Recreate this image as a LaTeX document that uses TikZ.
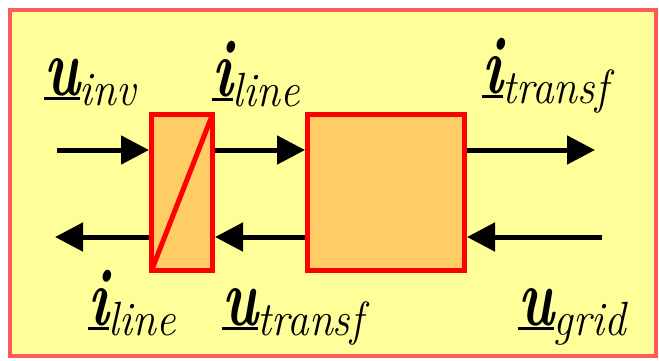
\documentclass[tikz,border=0pt]{standalone}
\usepackage{fontspec}
\usepackage{graphicx}
\usepackage{tikz}
\usetikzlibrary{positioning,arrows.meta}
\definecolor{panelyellow}{HTML}{FFFF99}
\definecolor{panelred}{HTML}{FF5A5A}
\definecolor{boxorange}{HTML}{FFCC66}
\newsavebox{\phasorbox}
\newcommand{\phasor}[2]{%
  \sbox{\phasorbox}{\scalebox{0.7}[1]{\fontsize{82}{82}\selectfont\bfseries\itshape #1}}%
  \rlap{\rule[-5pt]{\wd\phasorbox}{3pt}}\usebox{\phasorbox}%
  \raisebox{-10pt}{\scalebox{0.9}[1]{\fontsize{48}{48}\selectfont\itshape #2}}}

\begin{document}
\begin{tikzpicture}[
  x=1pt, y=-1pt,
  blk/.style={draw=red, line width=5pt, fill=boxorange, minimum height=156pt, inner sep=0pt},
  sig/.style={line width=5pt, -{Triangle[length=28pt, width=28pt]}},
  lbl/.style={anchor=base west, inner sep=0pt},
]
\useasboundingbox (0,0) rectangle (659,360);
\draw[panelred, line width=4pt, fill=panelyellow] (10,10) rectangle (656,356);

% blocks
\node[blk, minimum width=61pt] (lbox) at (182,192.5) {};
\node[blk, minimum width=157pt, right=90pt of lbox] (rbox) {};
\draw[red, line width=5pt] ([shift={(-2.5pt,-2.5pt)}]lbox.north east) -- ([shift={(2.5pt,2.5pt)}]lbox.south west);

% signal arrows
\coordinate (uinvin) at (57,150);
\coordinate (itrout) at (595,150);
\coordinate (ilout) at (55,237);
\coordinate (ugridin) at (602,237);
\draw[sig] (uinvin) -- (uinvin -| lbox.west);
\draw[sig] (lbox.east |- uinvin) -- (rbox.west |- uinvin);
\draw[sig] (rbox.east |- itrout) -- (itrout);
\draw[sig] (lbox.west |- ilout) -- (ilout);
\draw[sig] (rbox.west |- ilout) -- (lbox.east |- ilout);
\draw[sig] (ugridin) -- (ugridin -| rbox.east);

% labels
\node[lbl] (uinv) at (44,95) {\phasor{u}{inv}};
\node[lbl] (ilinetop) at (212,96) {\phasor{i}{line}};
\node[lbl] (itransf) at (482,93) {\phasor{i}{transf}};
\node[lbl] (ilinebot) at (88,325) {\phasor{i}{line}};
\node[lbl] (utransf) at (222,325) {\phasor{u}{transf}};
\node[lbl] (ugrid) at (518,325) {\phasor{u}{grid}};
\end{tikzpicture}
\end{document}
